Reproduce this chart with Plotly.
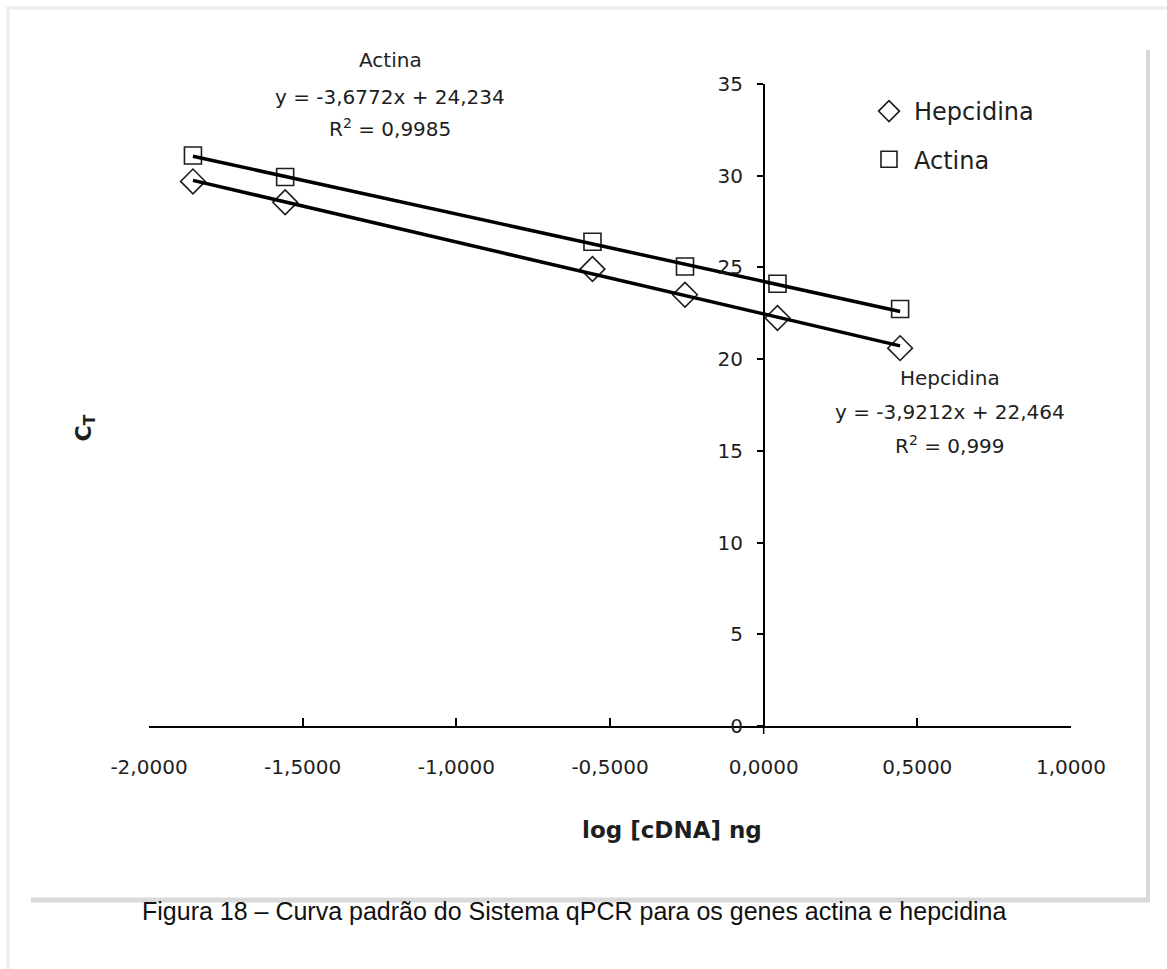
import plotly.graph_objects as go

# Standard curve: log of cDNA amount (ng) vs threshold cycle
log_cdna = [-1.857, -1.557, -0.557, -0.256, 0.045, 0.444]
ct_hepcidina = [29.69, 28.55, 24.91, 23.51, 22.24, 20.60]
ct_actina = [31.10, 29.93, 26.40, 25.05, 24.11, 22.73]

# Linear trend lines (slope, intercept, R²)
fit_hepcidina = (-3.9212, 22.464, "0,999")
fit_actina = (-3.6772, 24.234, "0,9985")

x_ticks = [-2.0, -1.5, -1.0, -0.5, 0.0, 0.5, 1.0]
x_ticktext = ["-2,0000", "-1,5000", "-1,0000", "-0,5000", "0,0000", "0,5000", "1,0000"]
y_ticks = [0, 5, 10, 15, 20, 25, 30, 35]
y_ticktext = ["0", "5", "10", "15", "20", "25", "30", "35"]

W, H = 1167, 969
ML, MR, MT, MB = 149, 96, 84, 243
PW, PH = W - ML - MR, H - MT - MB


def px(xp):
    return (xp - ML) / PW


def py(yp):
    return (H - MB - yp) / PH


def fmt(v):
    return f"{v:.4f}".rstrip("0").replace(".", ",")


INK = "#1e1e1e"
FONT = "DejaVu Sans"

fig = go.Figure()

fig.add_trace(go.Scatter(
    x=log_cdna, y=ct_hepcidina, mode="markers", name="Hepcidina",
    legendgroup="h",
    marker=dict(symbol="diamond-open", size=19, color=INK, line=dict(width=1.6)),
))
fig.add_trace(go.Scatter(
    x=log_cdna, y=ct_actina, mode="markers", name="Actina",
    legendgroup="a",
    marker=dict(symbol="square-open", size=17, color=INK, line=dict(width=1.6)),
))

for (m, b, _r2) in (fit_hepcidina, fit_actina):
    xs = [min(log_cdna), max(log_cdna)]
    fig.add_trace(go.Scatter(
        x=xs, y=[m * v + b for v in xs], mode="lines", showlegend=False,
        line=dict(color="black", width=3.5), hoverinfo="skip",
    ))

annotations = []


def label_block(title, fit, xc, ys):
    m, b, r2 = fit
    lines = [
        title,
        f"y = {fmt(m)}x + {fmt(b)}",
        f"R<sup>2</sup> = {r2}",
    ]
    for txt, yp in zip(lines, ys):
        annotations.append(dict(
            x=px(xc), y=py(yp), xref="paper", yref="paper", text=txt,
            showarrow=False, xanchor="center", yanchor="middle",
            font=dict(family=FONT, size=20, color=INK),
        ))


label_block("Actina", fit_actina, 390, [60, 97, 128])
label_block("Hepcidina", fit_hepcidina, 950, [378, 412, 445])

# axis titles
annotations.append(dict(
    x=px(68), y=py(428), xref="paper", yref="paper",
    text="C<sub>T</sub>", textangle=-90, showarrow=False,
    font=dict(family=FONT, size=22, color=INK, weight="bold"),
))
annotations.append(dict(
    x=px(672), y=py(845), xref="paper", yref="paper",
    text="log [cDNA] ng", showarrow=False,
    font=dict(family=FONT, size=23, color=INK, weight="bold"),
))
# caption
annotations.append(dict(
    x=px(574), y=py(927), xref="paper", yref="paper",
    text="Figura 18 – Curva padrão do Sistema qPCR para os genes actina e hepcidina",
    showarrow=False,
    font=dict(family="Liberation Sans", size=25, color="#111111"),
))

# frame around the chart area, plus the short stub of the vertical axis below zero
shapes = [
    dict(type="line", xref="paper", yref="paper", x0=px(7), x1=px(1167), y0=py(8), y1=py(8),
         line=dict(color="#ececec", width=3)),
    dict(type="line", xref="paper", yref="paper", x0=px(8), x1=px(8), y0=py(7), y1=py(969),
         line=dict(color="#ececec", width=3)),
    dict(type="line", xref="paper", yref="paper", x0=px(1148), x1=px(1148), y0=py(50), y1=py(902),
         line=dict(color="#d9d9d9", width=4)),
    dict(type="line", xref="paper", yref="paper", x0=px(31), x1=px(1150), y0=py(900), y1=py(900),
         line=dict(color="#d9d9d9", width=5)),
    dict(type="line", xref="x", yref="paper", x0=0, x1=0, y0=0, y1=py(734),
         line=dict(color="black", width=1.5)),
]

fig.update_layout(
    width=W, height=H,
    margin=dict(l=ML, r=MR, t=MT, b=MB),
    paper_bgcolor="white", plot_bgcolor="white",
    showlegend=True,
    legend=dict(
        x=px(864), y=py(89), xanchor="left", yanchor="top",
        font=dict(family=FONT, size=24, color=INK),
        tracegroupgap=14, bgcolor="rgba(0,0,0,0)", itemwidth=40,
    ),
    xaxis=dict(
        range=[-2, 1], tickvals=x_ticks, ticktext=x_ticktext,
        showline=True, linecolor="black", linewidth=1.5,
        ticks="inside", ticklen=8, tickwidth=1.5, tickcolor="black",
        ticklabelstandoff=22,
        showgrid=False, zeroline=False,
        tickfont=dict(family=FONT, size=20, color=INK),
    ),
    yaxis=dict(
        range=[0, 35], tickvals=y_ticks, ticktext=y_ticktext,
        anchor="free", position=2 / 3,
        showline=True, linecolor="black", linewidth=1.5,
        ticks="outside", ticklen=6, tickwidth=1.5, tickcolor="black",
        ticklabelstandoff=10,
        showgrid=False, zeroline=False,
        tickfont=dict(family=FONT, size=20, color=INK),
    ),
    annotations=annotations,
    shapes=shapes,
)

fig.write_html("out.html")
